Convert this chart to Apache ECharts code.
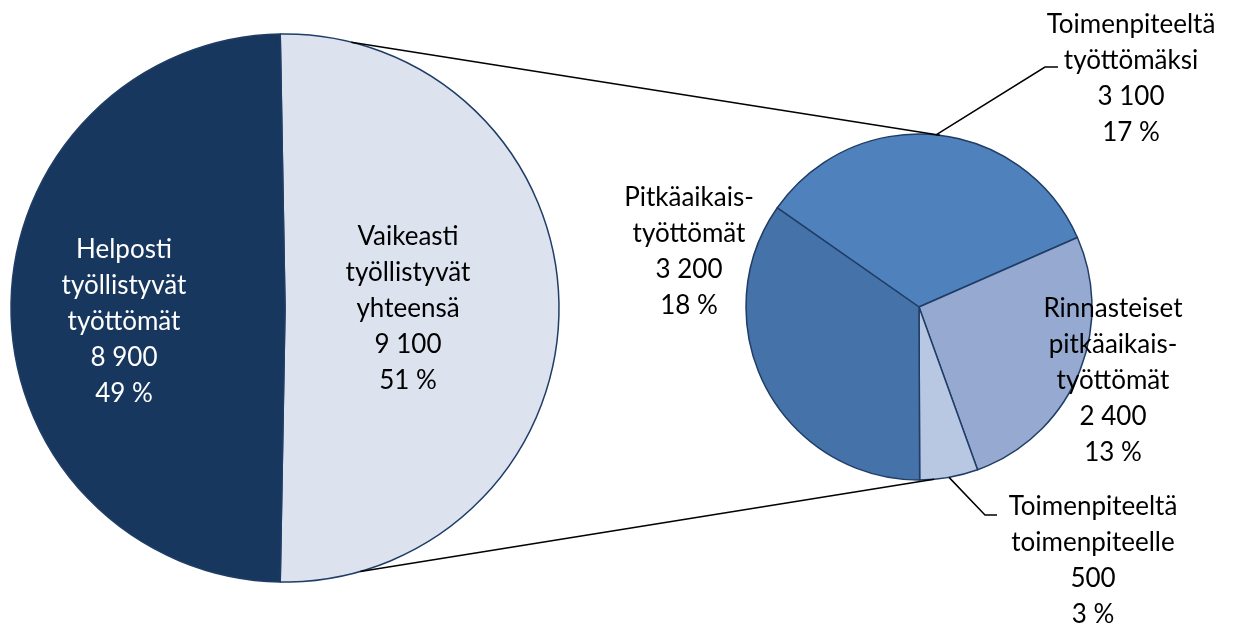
<!DOCTYPE html>
<html>
<head>
<meta charset="utf-8">
<script src="https://cdn.jsdelivr.net/npm/echarts@6/dist/echarts.min.js"></script>
<style>
  html, body { margin: 0; padding: 0; background: #fff; }
  #chart { width: 1233px; height: 626px; }
</style>
</head>
<body>
<div id="chart"></div>
<script>
// vasen piirakka
const mainNames = ['Vaikeasti\ntyöllistyvät\nyhteensä', 'Helposti\ntyöllistyvät\ntyöttömät']
const mainValues = [9100, 8900]
const mainColors = ['#dce3ef', '#17375e']

// oikea piirakka (vaikeasti työllistyvät eriteltynä)
const subNames = ['Toimenpiteeltä\ntyöttömäksi', 'Rinnasteiset\npitkäaikais-\ntyöttömät', 'Toimenpiteeltä\ntoimenpiteelle', 'Pitkäaikais-\ntyöttömät']
const subValues = [3100, 2400, 500, 3200]
const subColors = ['#4f81bd', '#95a9d1', '#b9c8e2', '#4573a9']

const total = mainValues.reduce((a, b) => a + b, 0)
const subTotal = subValues.reduce((a, b) => a + b, 0)

// geometry
const mainCenter = [285, 308], mainR = 274
const subCenter = [919, 307], subR = 173
const subStart = 145

// label centres
const mainLabelPos = [[408, 309], [124, 322]]
const subLabelPos = [[1131, 79], [1113, 381], [1093, 561], [689, 252]]

const fmt = v => String(v).replace(/\B(?=(\d{3})+(?!\d))/g, ' ')
const labelText = p => p.name + '\n' + fmt(p.value) + '\n' + Math.round(p.value / total * 100) + ' %'

const chart = echarts.init(document.getElementById('chart'))

const ptOn = (c, r, deg) => [c[0] + r * Math.cos(deg * Math.PI / 180), c[1] - r * Math.sin(deg * Math.PI / 180)]

// mid-angle of a slice in the right pie
const midAngle = i => {
  let before = 0
  for (let k = 0; k < i; k++) before += subValues[k]
  return subStart - (before + subValues[i] / 2) / subTotal * 360
}

const mainSpan = mainValues[0] / total * 360
const border = { borderColor: '#1f3d66', borderWidth: 1.5 }
const font = { fontFamily: 'Lato', fontSize: 26, lineHeight: 36 }

const lead1a = ptOn(subCenter, subR, midAngle(0))
const lead2a = ptOn(subCenter, subR, midAngle(2))

const option = {
  animation: false,
  series: [
    {
      type: 'pie',
      center: mainCenter,
      radius: mainR,
      startAngle: 90 + (mainSpan - 180) / 2,
      clockwise: true,
      silent: true,
      itemStyle: border,
      label: { show: true, position: 'inside', formatter: labelText, ...font },
      labelLine: { show: false },
      labelLayout: p => ({ x: mainLabelPos[p.dataIndex][0], y: mainLabelPos[p.dataIndex][1], align: 'center', verticalAlign: 'middle' }),
      data: mainNames.map((n, i) => ({
        name: n,
        value: mainValues[i],
        itemStyle: { color: mainColors[i] },
        label: { color: i === 1 ? '#ffffff' : '#000000' }
      }))
    },
    {
      type: 'pie',
      center: subCenter,
      radius: subR,
      startAngle: subStart,
      clockwise: true,
      silent: true,
      avoidLabelOverlap: false,
      itemStyle: border,
      label: { show: true, position: 'inside', formatter: labelText, color: '#000', ...font },
      labelLine: { show: false },
      labelLayout: p => ({ x: subLabelPos[p.dataIndex][0], y: subLabelPos[p.dataIndex][1], align: 'center', verticalAlign: 'middle' }),
      data: subNames.map((n, i) => ({
        name: n,
        value: subValues[i],
        itemStyle: { color: subColors[i] }
      }))
    }
  ],
  graphic: [
    // yhdysviivat piirakoiden välillä
    { type: 'line', z: 10, shape: { x1: ptOn(mainCenter, mainR, 76)[0], y1: ptOn(mainCenter, mainR, 76)[1], x2: ptOn(subCenter, subR, 83)[0], y2: ptOn(subCenter, subR, 83)[1] }, style: { stroke: '#000', lineWidth: 1.5 } },
    { type: 'line', z: 10, shape: { x1: ptOn(mainCenter, mainR, -74)[0], y1: ptOn(mainCenter, mainR, -74)[1], x2: ptOn(subCenter, subR, -85)[0], y2: ptOn(subCenter, subR, -85)[1] }, style: { stroke: '#000', lineWidth: 1.5 } },
    // selitteiden viivat
    { type: 'polyline', z: 10, shape: { points: [lead1a, [1045, 67], [1058, 67]] }, style: { stroke: '#000', lineWidth: 1.5, fill: null } },
    { type: 'polyline', z: 10, shape: { points: [lead2a, [985, 515], [997, 515]] }, style: { stroke: '#000', lineWidth: 1.5, fill: null } }
  ]
}

chart.setOption(option)
</script>
</body>
</html>
